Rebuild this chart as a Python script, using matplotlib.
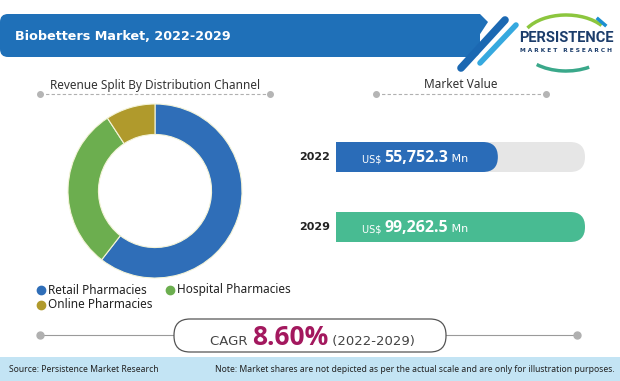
import matplotlib
matplotlib.use("Agg")
import matplotlib.pyplot as plt
from matplotlib.patches import FancyBboxPatch, Polygon, Arc, Rectangle

# --- data ---
channels = ["Retail Pharmacies", "Hospital Pharmacies", "Online Pharmacies"]
channel_share = [60.5, 30.3, 9.2]
channel_colors = ["#2f6eb8", "#6cae4f", "#b09a2c"]

years = ["2022", "2029"]
market_value = [55752.3, 99262.5]
value_labels = ["55,752.3", "99,262.5"]
bar_fill = [0.65, 1.0]   # drawn length of the bars (chart is not to scale)
bar_colors = ["#2a6cb8", "#48bb92"]

cagr = "8.60%"
cagr_period = "(2022-2029)"

W, H = 620, 381
fig = plt.figure(figsize=(W / 100, H / 100), dpi=100)
fig.patch.set_facecolor("white")

# full-figure axes in pixel units for the decoration
bg = fig.add_axes([0, 0, 1, 1])
bg.set_xlim(0, W)
bg.set_ylim(H, 0)
bg.axis("off")
bg.set_zorder(3)

# header band
bg.add_patch(FancyBboxPatch((0, 14), 480, 43, boxstyle="round,pad=0,rounding_size=8",
                            fc="#1f70b8", ec="none"))
bg.add_patch(Polygon([(440, 14), (480, 14), (488, 22), (465, 57), (440, 57)],
                     closed=True, fc="#1f70b8", ec="none"))
bg.plot([505, 461], [20, 68], color="#1b68b2", lw=5.5, solid_capstyle="round")
bg.plot([516, 480], [25, 63], color="#36a9df", lw=4, solid_capstyle="round")
bg.text(15, 37, "Biobetters Market, 2022-2029", color="white", fontsize=9.2,
        fontweight="bold", va="center", ha="left")

# logo
bg.add_patch(Arc((566, 42), 90, 54, theta1=200, theta2=335, color="#8cc63e", lw=2.5))
bg.add_patch(Arc((566, 44), 90, 54, theta1=45, theta2=145, color="#3aa88a", lw=2.5))
bg.plot([598, 605], [19, 25], color="#1c8fd0", lw=2.5)
bg.text(566, 38, "PERSISTENCE", color="#1c3d6b", fontsize=10.5, fontweight="bold",
        ha="center", va="center", family="Roboto")
bg.text(566, 51, "M A R K E T   R E S E A R C H", color="#1c3d6b", fontsize=4.2,
        ha="center", va="center", family="DejaVu Sans", fontweight="bold")

# section headings with dashed rules
for cx, x0, x1, label in [(155, 40, 270, "Revenue Split By Distribution Channel"),
                          (461, 376, 546, "Market Value")]:
    bg.text(cx, 85, label, fontsize=8.5, color="#333333", ha="center", va="center",
            family="Noto Sans")
    bg.plot([x0, x1], [94, 94], color="#b0b0b0", lw=0.8, ls=(0, (3, 2)))
    bg.plot([x0, x1], [94, 94], ls="none", marker="o", ms=4, color="#b5b5b5")

# donut
cx, cy, r = 155, 191, 87
dax = fig.add_axes([(cx - r) / W, (H - cy - r) / H, 2 * r / W, 2 * r / H])
dax.pie(channel_share, colors=channel_colors, startangle=90, counterclock=False,
        wedgeprops=dict(width=0.35, edgecolor="#f4f4d8", linewidth=0.8))
dax.set_xlim(-1, 1)
dax.set_ylim(-1, 1)

# donut legend
legend_pos = [(41, 290), (170, 290), (41, 305)]
for (lx, ly), name, col in zip(legend_pos, channels, channel_colors):
    bg.plot(lx, ly, "o", ms=6, color=col)
    bg.text(lx + 7, ly, name, fontsize=8.5, color="#222222", va="center",
            ha="left", family="Noto Sans")

# market value bars
bx0, bx1 = 336, 585
bax = fig.add_axes([bx0 / W, (H - 262) / H, (bx1 - bx0) / W, 140 / H])
bax.set_xlim(0, 1)
bax.set_ylim(1.5, -0.5)
bax.axis("off")
ypos = list(range(len(years)))
bh = 30 / 70
aspect = (bx1 - bx0) / 70
rad = 15 / (bx1 - bx0)

track = bax.barh(ypos, [1.0] * len(years), height=bh, color="#e6e6e6")
bars = bax.barh(ypos, bar_fill, height=bh, color=bar_colors)
for group in (track, bars):
    for rect in group:
        x, y, w, h = rect.get_x(), rect.get_y(), rect.get_width(), rect.get_height()
        rect.set_visible(False)
        # start left of the axes so the clip gives a square left end
        bax.add_patch(FancyBboxPatch((x - 0.2, y), w + 0.2, h,
                                     boxstyle="round,pad=0,rounding_size=%f" % rad,
                                     mutation_aspect=aspect, fc=rect.get_facecolor(),
                                     ec="none", zorder=rect.get_zorder()))

fig.canvas.draw()
renderer = fig.canvas.get_renderer()


def chain(ax, x, y, parts):
    # place text pieces one after another on one baseline
    for s, kw in parts:
        t = ax.text(x, y, s, va="baseline", ha="left", transform=ax.transData, **kw)
        bb = t.get_window_extent(renderer=renderer)
        x = ax.transData.inverted().transform((bb.x1, bb.y0))[0]


for i, (yr, lab) in enumerate(zip(years, value_labels)):
    yc = 157 + 70 * i
    bg.text(330, yc, yr, fontsize=8, fontweight="bold", color="#222222",
            ha="right", va="center", family="DejaVu Sans")
    chain(bg, 362, yc + 5, [("US$ ", dict(fontsize=7, color="white", family="DejaVu Sans")),
                            (lab, dict(fontsize=11.5, fontweight="bold", color="white",
                                       family="Open Sans")),
                            (" Mn", dict(fontsize=8, color="white", family="DejaVu Sans"))])

# CAGR box
bg.plot([40, 577], [335, 335], color="#9a9a9a", lw=0.8)
bg.plot([40, 577], [335, 335], ls="none", marker="o", ms=5, color="#b0b0b0")
bg.add_patch(FancyBboxPatch((174, 319), 272, 33, boxstyle="round,pad=0,rounding_size=16",
                            fc="white", ec="#555555", lw=0.9, zorder=3))
chain(bg, 210, 345, [("CAGR ", dict(fontsize=9.5, color="#444444", family="DejaVu Sans", zorder=4)),
                     (cagr, dict(fontsize=19, fontweight="bold", color="#a3185e", zorder=4,
                                 family="Open Sans")),
                     (" " + cagr_period, dict(fontsize=9.5, color="#444444",
                                              family="DejaVu Sans", zorder=4))])

# footer band
bg.add_patch(Rectangle((0, 357), W, 24, fc="#c3e4f4", ec="none"))
bg.text(9, 369.5, "Source: Persistence Market Research", fontsize=6.2, color="#222222",
        va="center", ha="left", family="Noto Sans")
bg.text(615, 369.5, "Note: Market shares are not depicted as per the actual scale and are only for illustration purposes.",
        fontsize=6.2, color="#222222", va="center", ha="right", family="Noto Sans")

fig.savefig("out.png", dpi=100, facecolor="white")
